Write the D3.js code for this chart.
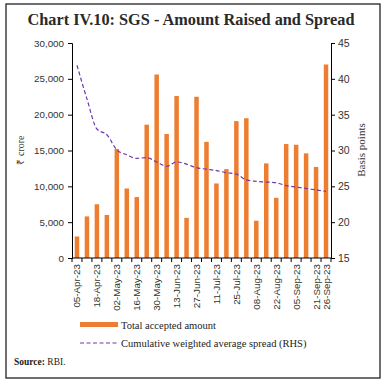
<!DOCTYPE html>
<html><head><meta charset="utf-8">
<script src="https://cdn.jsdelivr.net/npm/d3@7"></script>
<style>body{margin:0;background:#fff}svg{display:block}</style>
</head><body>
<svg id="c" width="383" height="383"></svg>
<script>
const dates = ["05-Apr-23","11-Apr-23","18-Apr-23","25-Apr-23","02-May-23","09-May-23","16-May-23","23-May-23","30-May-23","06-Jun-23","13-Jun-23","20-Jun-23","27-Jun-23","04-Jul-23","11-Jul-23","18-Jul-23","25-Jul-23","01-Aug-23","08-Aug-23","16-Aug-23","22-Aug-23","29-Aug-23","05-Sep-23","12-Sep-23","21-Sep-23","26-Sep-23"];
const shownLabels = ["05-Apr-23","18-Apr-23","02-May-23","16-May-23","30-May-23","13-Jun-23","27-Jun-23","11-Jul-23","25-Jul-23","08-Aug-23","22-Aug-23","05-Sep-23","21-Sep-23","26-Sep-23"];
const amount = [3000,5800,7500,6000,15200,9700,8500,18600,25600,17300,22600,5600,22500,16200,10400,12400,19100,19500,5200,13200,8400,15900,15800,14600,12700,27000];
const spread = [41.9,37.2,33.0,32.2,30.1,29.4,28.9,29.0,28.4,27.8,28.4,28.1,27.6,27.4,27.2,26.9,26.7,25.9,25.7,25.6,25.5,25.1,24.9,24.7,24.5,24.3];
const leftTicks = [0,5000,10000,15000,20000,25000,30000];
const rightTicks = [15,20,25,30,35,40,45];

const svg = d3.select("#c");
const L = 72, R = 331, T = 43, B = 258;
const sans = "'Liberation Sans', Arial, sans-serif";
const serif = "'Liberation Serif', 'Times New Roman', serif";

svg.append("rect").attr("x",6).attr("y",4).attr("width",374).attr("height",374)
  .attr("fill","none").attr("stroke","#222").attr("stroke-width",1.3);

svg.append("text").attr("x",191).attr("y",25).attr("text-anchor","middle")
  .attr("font-family",serif).attr("font-weight","bold").attr("font-size",16.3)
  .attr("fill","#2a2a2a").text("Chart IV.10: SGS - Amount Raised and Spread");

const x = d3.scaleBand().domain(dates).range([L,R]).paddingInner(0.55).paddingOuter(0.275);
const yL = d3.scaleLinear().domain([0,30000]).range([B,T]);
const yR = d3.scaleLinear().domain([15,45]).range([B,T]);

// bars
svg.append("g").selectAll("rect").data(amount).join("rect")
  .attr("x",(d,i)=>x(dates[i])).attr("width",x.bandwidth())
  .attr("y",d=>yL(d)).attr("height",d=>B-yL(d)).attr("fill","#ED7D31");

// line
const line = d3.line().x((d,i)=>x(dates[i])+x.bandwidth()/2).y(d=>yR(d)).curve(d3.curveMonotoneX);
svg.append("path").datum(spread).attr("d",line).attr("fill","none")
  .attr("stroke","#6A3AA8").attr("stroke-width",1.2).attr("stroke-dasharray","4,2.5");

// left axis
const ga = svg.append("g").attr("transform",`translate(${L},0)`)
  .call(d3.axisLeft(yL).tickValues(leftTicks).tickSize(4).tickFormat(d3.format(",")));
ga.select(".domain").attr("stroke","#000");
ga.selectAll("text").attr("font-family",sans).attr("font-size",9.8).attr("fill","#333").attr("dx","-1");

// right axis
const gr = svg.append("g").attr("transform",`translate(${R},0)`)
  .call(d3.axisRight(yR).tickValues(rightTicks).tickSize(4));
gr.selectAll("text").attr("font-family",sans).attr("font-size",10.5).attr("fill","#333");

// x axis
const step = x.step();
const bounds = d3.range(dates.length+1).map(i => L + i*step);
const gx = svg.append("g");
gx.append("line").attr("x1",L).attr("x2",R).attr("y1",B).attr("y2",B).attr("stroke","#000");
gx.selectAll("line.t").data(bounds).join("line").attr("class","t")
  .attr("x1",d=>d).attr("x2",d=>d).attr("y1",B).attr("y2",B+4).attr("stroke","#000");
gx.selectAll("text").data(shownLabels).join("text")
  .attr("transform",d=>`translate(${x(d)+x.bandwidth()/2+3.5},${B+6}) rotate(-90)`)
  .attr("text-anchor","end").attr("font-family",sans).attr("font-size",9.8).attr("fill","#333").text(d=>d);

// axis titles
svg.append("text").attr("transform","translate(24,150) rotate(-90)").attr("text-anchor","middle")
  .attr("font-family",serif).attr("font-size",10).attr("fill","#333").text("₹ crore");
svg.append("text").attr("transform","translate(365,150) rotate(-90)").attr("text-anchor","middle")
  .attr("font-family",serif).attr("font-size",11).attr("fill","#333").text("Basis points");

// legend
svg.append("rect").attr("x",80).attr("y",322).attr("width",38).attr("height",5).attr("fill","#ED7D31");
svg.append("text").attr("x",121).attr("y",328.5).attr("font-family",serif).attr("font-size",10.5)
  .attr("fill","#222").text("Total accepted amount");
svg.append("line").attr("x1",80).attr("x2",118).attr("y1",343).attr("y2",343)
  .attr("stroke","#6A3AA8").attr("stroke-width",1).attr("stroke-dasharray","4,2.5");
svg.append("text").attr("x",121).attr("y",346.5).attr("font-family",serif).attr("font-size",10.5)
  .attr("fill","#222").text("Cumulative weighted average spread (RHS)");

const src = svg.append("text").attr("x",14).attr("y",365).attr("font-family",serif).attr("font-size",9.5).attr("fill","#222");
src.append("tspan").attr("font-weight","bold").text("Source: ");
src.append("tspan").text("RBI.");
</script>
</body></html>
